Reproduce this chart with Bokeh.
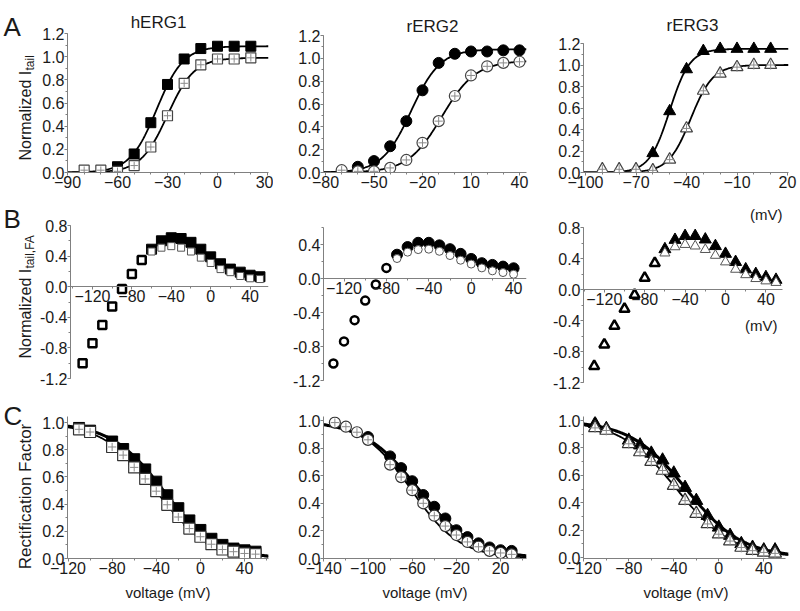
import numpy as np
from bokeh.plotting import figure
from bokeh.layouts import row, column
from bokeh.models import Range1d, FixedTicker, PrintfTickFormatter
from bokeh.core.properties import value
from bokeh.embed import file_html
from bokeh.resources import INLINE

FONT = "Liberation Sans"
AXIS = "#808080"
TXT = "#1a1a1a"

# ---------------- Row A: normalized tail current ----------------
a1_v_drug = [-60, -50, -40, -30, -20, -10, 0, 10, 20]
a1_drug = [0.05, 0.16, 0.43, 0.76, 0.98, 1.07, 1.09, 1.09, 1.09]
a1_v_ctrl = [-80, -70, -60, -50, -40, -30, -20, -10, 0, 10, 20]
a1_ctrl = [0.02, 0.02, 0.01, 0.06, 0.22, 0.49, 0.77, 0.93, 0.98, 0.98, 0.99]
a1_fit_drug = (1.09, -36.5, 8.0)   # Imax, V1/2, k (Boltzmann fit)
a1_fit_ctrl = (0.99, -30.0, 8.0)

a2_v_drug = [-60, -50, -40, -30, -20, -10, 0, 10, 20, 30, 40]
a2_drug = [0.05, 0.10, 0.23, 0.45, 0.72, 0.96, 1.04, 1.06, 1.06, 1.07, 1.07]
a2_v_ctrl = [-70, -60, -50, -40, -30, -20, -10, 0, 10, 20, 30, 40]
a2_ctrl = [0.02, 0.01, 0.01, 0.04, 0.11, 0.26, 0.45, 0.67, 0.85, 0.93, 0.96, 0.97]
a2_fit_drug = (1.08, -27.0, 9.0)
a2_fit_ctrl = (0.98, -8.0, 10.5)

a3_v_drug = [-60, -50, -40, -30, -20, -10, 0, 10]
a3_drug = [0.18, 0.57, 0.96, 1.13, 1.15, 1.15, 1.15, 1.15]
a3_v_ctrl = [-90, -80, -70, -60, -50, -40, -30, -20, -10, 0, 10]
a3_ctrl = [0.03, 0.03, 0.03, 0.02, 0.12, 0.41, 0.76, 0.92, 0.98, 1.00, 1.00]
a3_fit_drug = (1.15, -50.0, 6.0)
a3_fit_ctrl = (1.00, -37.5, 6.6)

# ---------------- Row B: normalized I tail,FA ----------------
b1_v = [-130, -120, -110, -100, -90, -80, -70, -60, -50, -40, -30, -20, -10, 0, 10, 20, 30, 40, 50]
b1_ctrl = [-1.00, -0.74, -0.50, -0.26, -0.03, 0.165, 0.35, 0.46, 0.51, 0.53, 0.51, 0.46, 0.38, 0.31, 0.23, 0.19, 0.14, 0.11, 0.10]
b1_v_drug = [-60, -50, -40, -30, -20, -10, 0, 10, 20, 30, 40, 50]
b1_drug = [0.49, 0.60, 0.64, 0.63, 0.58, 0.49, 0.39, 0.30, 0.23, 0.19, 0.15, 0.13]

b2_v = [-130, -120, -110, -100, -90, -80, -70, -60, -50, -40, -30, -20, -10, 0, 10, 20, 30, 40]
b2_ctrl = [-1.00, -0.74, -0.49, -0.26, -0.07, 0.125, 0.235, 0.31, 0.34, 0.345, 0.32, 0.27, 0.215, 0.17, 0.125, 0.09, 0.07, 0.05]
b2_v_drug = [-70, -60, -50, -40, -30, -20, -10, 0, 10, 20, 30, 40]
b2_drug = [0.28, 0.37, 0.42, 0.42, 0.39, 0.345, 0.29, 0.23, 0.18, 0.16, 0.14, 0.12]

b3_v = [-130, -120, -110, -100, -90, -80, -70, -60, -50, -40, -30, -20, -10, 0, 10, 20, 30, 40, 50]
b3_ctrl = [-0.99, -0.71, -0.47, -0.25, -0.07, 0.15, 0.34, 0.47, 0.55, 0.58, 0.56, 0.515, 0.44, 0.355, 0.26, 0.19, 0.14, 0.11, 0.09]
b3_v_drug = [-60, -50, -40, -30, -20, -10, 0, 10, 20, 30, 40, 50]
b3_drug = [0.52, 0.64, 0.69, 0.69, 0.645, 0.56, 0.46, 0.355, 0.26, 0.20, 0.16, 0.125]

# ---------------- Row C: rectification factor ----------------
c1_v = [-110, -100, -80, -70, -60, -50, -40, -30, -20, -10, 0, 10, 20, 30, 40, 50]
c1_ctrl = [0.95, 0.93, 0.82, 0.76, 0.67, 0.585, 0.495, 0.395, 0.305, 0.22, 0.16, 0.105, 0.066, 0.05, 0.037, 0.032]
c1_drug = [0.96, 0.94, 0.86, 0.805, 0.73, 0.655, 0.565, 0.465, 0.37, 0.28, 0.21, 0.145, 0.10, 0.073, 0.06, 0.05]
c1_fit_drug = (-33.5, 24.0)   # V1/2, k
c1_fit_ctrl = (-40.5, 24.0)

c2_v_ctrl = [-130, -120, -110, -100, -80, -70, -60, -50, -40, -30, -20, -10, 0, 10, 20, 30]
c2_ctrl = [0.985, 0.955, 0.915, 0.86, 0.68, 0.59, 0.495, 0.40, 0.31, 0.235, 0.17, 0.12, 0.085, 0.055, 0.04, 0.03]
c2_v_drug = [-100, -80, -70, -60, -50, -40, -30, -20, -10, 0, 10, 20, 30]
c2_drug = [0.88, 0.74, 0.655, 0.56, 0.46, 0.375, 0.29, 0.205, 0.155, 0.11, 0.08, 0.06, 0.055]
c2_fit_drug = (-54.0, 25.0)
c2_fit_ctrl = (-61.0, 22.0)

c3_v = [-110, -100, -80, -70, -60, -50, -40, -30, -20, -10, 0, 10, 20, 30, 40, 50]
c3_ctrl = [0.946, 0.927, 0.83, 0.77, 0.70, 0.635, 0.525, 0.415, 0.32, 0.245, 0.17, 0.12, 0.073, 0.05, 0.037, 0.03]
c3_drug = [0.976, 0.94, 0.855, 0.82, 0.76, 0.71, 0.615, 0.51, 0.415, 0.305, 0.22, 0.16, 0.10, 0.073, 0.054, 0.054]
c3_fit_drug = (-29.0, 25.0)
c3_fit_ctrl = (-37.5, 25.0)

# ---------------- ticks / labels ----------------
titles = ["hERG1", "rERG2", "rERG3"]
a1_xticks = [-90, -60, -30, 0, 30]
a2_xticks = [-80, -50, -20, 10, 40]
a3_xticks = [-100, -70, -40, -10, 20]
a_yticks = [0.0, 0.2, 0.4, 0.6, 0.8, 1.0, 1.2]
b_xticks = [-120, -80, -40, 0, 40]
b1_yticks = [-1.2, -0.8, -0.4, 0.0, 0.4, 0.8]
b2_yticks = [-1.2, -0.8, -0.4, 0.0, 0.4]
c1_xticks = [-120, -80, -40, 0, 40]
c2_xticks = [-140, -100, -60, -20, 20]
c3_xticks = [-120, -80, -40, 0, 40]
c_yticks = [0.0, 0.2, 0.4, 0.6, 0.8, 1.0]
unit_label = "(mV)"
x_title = "voltage (mV)"

# ---------------- page geometry (pixels) ----------------
# columns: canvas x, canvas width, frame left, frame right
COLS = [(36, 237, 67, 268), (273, 259, 323, 526), (532, 265, 583, 788)]
# rows: canvas y, canvas height, frame top, frame bottom
ROWS = [(0, 198, 2, 172), (198, 207, 198, 382), (405, 206, 416, 558)]


def minor(lo, hi, step):
    n = int(round((hi - lo) / step))
    return [round(lo + i * step, 4) for i in range(n + 1)]


def boltz_up(v, p):
    imax, vh, k = p
    return imax / (1.0 + np.exp((vh - v) / k))


def boltz_down(v, p):
    vh, k = p
    return 1.0 / (1.0 + np.exp((v - vh) / k))


def make_panel(ci, ri, xmap, ymap, xt, xm, yt, ym, ybounds=None, x0=True):
    cx, cw, fl, fr = COLS[ci]
    cy, ch, ft, fb = ROWS[ri]
    xv1, xp1, xv2, xp2 = xmap
    sx = (xp2 - xp1) / (xv2 - xv1)
    xs, xe = xv1 + (fl - xp1) / sx, xv1 + (fr - xp1) / sx
    yv1, yp1, yv2, yp2 = ymap
    sy = (yp1 - yp2) / (yv2 - yv1)
    ys, ye = yv1 - (fb - yp1) / sy, yv1 + (yp1 - ft) / sy
    p = figure(width=cw, height=ch, x_range=Range1d(xs, xe), y_range=Range1d(ys, ye),
               output_backend="svg", toolbar_location=None, tools="",
               min_border_left=fl - cx, min_border_right=cx + cw - fr,
               min_border_top=ft - cy, min_border_bottom=cy + ch - fb)
    p.grid.visible = False
    p.outline_line_color = None
    for ax in (p.xaxis[0], p.yaxis[0]):
        ax.axis_line_color = AXIS
        ax.major_tick_line_color = AXIS
        ax.minor_tick_line_color = AXIS
        ax.major_tick_out = 3
        ax.major_tick_in = 0
        ax.minor_tick_out = 2
        ax.minor_tick_in = 0
        ax.major_label_text_font = FONT
        ax.major_label_text_font_size = "16px"
        ax.major_label_text_color = TXT
        ax.major_label_standoff = 0
    p.xaxis.ticker = FixedTicker(ticks=xt, minor_ticks=xm)
    p.yaxis.ticker = FixedTicker(ticks=yt, minor_ticks=ym)
    p.yaxis.formatter = PrintfTickFormatter(format="%.1f")
    if ybounds:
        p.yaxis.bounds = ybounds
    if x0:
        p.xaxis.fixed_location = 0
    fx = lambda px: xv1 + (px - xp1) / sx
    fy = lambda py: yv1 + (yp1 - py) / sy
    return p, (xs, xe), fx, fy


def curve(p, xr, fn, prm, lw, color="black"):
    xs = np.linspace(xr[0], xr[1], 240)
    p.line(xs, fn(xs, prm), line_color=color, line_width=lw)


def openmk(p, x, y, marker, size, lw=1.2, line="#444444"):
    p.scatter(x, y, marker=marker, size=size, fill_color="white", line_color=line, line_width=lw)
    p.scatter(x, y, marker="cross", size=size * 0.75, line_color="#8a8a8a", line_width=1)


def filledmk(p, x, y, marker, size):
    p.scatter(x, y, marker=marker, size=size, fill_color="black", line_color="black", line_width=1)


def add_text(p, x, y, txt, size, align="center"):
    p.text(x=[x], y=[y], text=[txt], text_font=value(FONT), text_font_size=value(size),
           text_color=TXT, text_align=align, text_baseline="alphabetic")


# ---------------- Row A ----------------
a1, a1_xr, a1_fx, a1_fy = make_panel(0, 0, (-90, 67, 30, 267), (0, 172, 1.2, 33), a1_xticks, minor(-90, 30, 10),
                                     a_yticks, minor(0, 1.2, 0.1), ybounds=(0, 1.2), x0=False)
a2, a2_xr, a2_fx, a2_fy = make_panel(1, 0, (-80, 325, 40, 519), (0, 172, 1.2, 35), a2_xticks, minor(-80, 40, 10),
                                     a_yticks, minor(0, 1.2, 0.1), ybounds=(0, 1.2), x0=False)
a3, a3_xr, a3_fx, a3_fy = make_panel(2, 0, (-100, 585, 20, 787), (0, 172, 1.2, 43), a3_xticks, minor(-100, 20, 10),
                                     a_yticks, minor(0, 1.2, 0.1), ybounds=(0, 1.2), x0=False)

curve(a1, a1_xr, boltz_up, a1_fit_drug, 1.8)
curve(a1, a1_xr, boltz_up, a1_fit_ctrl, 1.8)
filledmk(a1, a1_v_drug, a1_drug, "square", 10)
openmk(a1, a1_v_ctrl, a1_ctrl, "square", 10)
add_text(a1, a1_fx(158), a1_fy(22), titles[0], "17px")

curve(a2, a2_xr, boltz_up, a2_fit_drug, 1.8)
curve(a2, a2_xr, boltz_up, a2_fit_ctrl, 1.8)
filledmk(a2, a2_v_drug, a2_drug, "circle", 11)
openmk(a2, a2_v_ctrl, a2_ctrl, "circle", 11)
add_text(a2, a2_fx(432), a2_fy(26), titles[1], "17px")

curve(a3, a3_xr, boltz_up, a3_fit_drug, 1.8)
curve(a3, a3_xr, boltz_up, a3_fit_ctrl, 1.8)
filledmk(a3, a3_v_drug, a3_drug, "triangle", 12)
openmk(a3, a3_v_ctrl, a3_ctrl, "triangle", 12)
add_text(a3, a3_fx(692), a3_fy(25), titles[2], "17px")

# ---------------- Row B ----------------
b1, b1_xr, b1_fx, b1_fy = make_panel(0, 1, (0, 209.3, 50, 259.3), (0.8, 225, -1.2, 378), b_xticks, minor(-140, 60, 20),
                                     b1_yticks, minor(-1.2, 0.8, 0.2), ybounds=(-1.2, 0.8))
b2, b2_xr, b2_fx, b2_fy = make_panel(1, 1, (0, 470.7, 40, 513.1), (0.4, 244, -1.2, 380), b_xticks, minor(-140, 40, 20),
                                     b2_yticks, minor(-1.2, 0.6, 0.2), ybounds=(-1.2, 0.6))
b3, b3_xr, b3_fx, b3_fy = make_panel(2, 1, (0, 725, 40, 765.4), (0.8, 227, -1.2, 382), b_xticks, minor(-140, 40, 20),
                                     b1_yticks, minor(-1.2, 0.8, 0.2), ybounds=(-1.2, 0.8))
b3.xaxis.bounds = (b3_xr[0], b3_fx(782))

for p, v, ctrl, vd, drug, mk, s_thick, s_fill, s_thin, nthick in (
        (b1, b1_v, b1_ctrl, b1_v_drug, b1_drug, "square", 8, 10, 7, 7),
        (b2, b2_v, b2_ctrl, b2_v_drug, b2_drug, "circle", 8, 11, 8, 6),
        (b3, b3_v, b3_ctrl, b3_v_drug, b3_drug, "triangle", 10, 12, 10, 7)):
    p.scatter(v[:nthick], ctrl[:nthick], marker=mk, size=s_thick, fill_color="white", line_color="black", line_width=2.5)
    filledmk(p, vd, drug, mk, s_fill)
    p.scatter(v[nthick:], ctrl[nthick:], marker=mk, size=s_thin, fill_color="white", line_color="#555555", line_width=1)

# unit labels for rows A and B of the right column
add_text(b3, b3_fx(782), b3_fy(214), unit_label, "15px", align="right")
add_text(b3, b3_fx(777), b3_fy(325), unit_label, "15px", align="right")

# ---------------- Row C ----------------
c1, c1_xr, c1_fx, c1_fy = make_panel(0, 2, (-120, 67.5, 40, 244), (0, 558, 1.0, 422), c1_xticks, minor(-120, 60, 20),
                                     c_yticks, minor(0, 1.0, 0.1), x0=False)
c2, c2_xr, c2_fx, c2_fy = make_panel(1, 2, (0, 478, 20, 500.1), (0, 558, 1.0, 420), c2_xticks, minor(-140, 40, 20),
                                     c_yticks, minor(0, 1.0, 0.1), x0=False)
c3, c3_xr, c3_fx, c3_fy = make_panel(2, 2, (0, 718.3, 40, 763.3), (0, 557, 1.0, 420), c3_xticks, minor(-120, 40, 20),
                                     c_yticks, minor(0, 1.0, 0.1), x0=False)
c3.xaxis.bounds = (c3_xr[0], c3_fx(785))
for p in (c1, c2, c3):
    p.xaxis.axis_label = x_title
    p.xaxis.axis_label_text_font = FONT
    p.xaxis.axis_label_text_font_size = "15px"
    p.xaxis.axis_label_text_font_style = "normal"
    p.xaxis.axis_label_text_color = TXT
    p.xaxis.axis_label_standoff = 7

curve(c1, c1_xr, boltz_down, c1_fit_drug, 3)
curve(c1, c1_xr, boltz_down, c1_fit_ctrl, 1.8)
filledmk(c1, c1_v, c1_drug, "square", 11)
openmk(c1, c1_v, c1_ctrl, "square", 11, line="#333333")

curve(c2, c2_xr, boltz_down, c2_fit_drug, 3)
curve(c2, c2_xr, boltz_down, c2_fit_ctrl, 1.8)
filledmk(c2, c2_v_drug, c2_drug, "circle", 11)
openmk(c2, c2_v_ctrl, c2_ctrl, "circle", 11, line="#333333")

curve(c3, c3_xr, boltz_down, c3_fit_drug, 3)
curve(c3, c3_xr, boltz_down, c3_fit_ctrl, 1.8)
filledmk(c3, c3_v, c3_drug, "triangle", 13)
openmk(c3, c3_v, c3_ctrl, "triangle", 13, line="#333333")

# ---------------- left label column ----------------
LW, LH = 36, 611
lab = figure(width=LW, height=LH, x_range=Range1d(0, LW), y_range=Range1d(0, LH),
             output_backend="svg", toolbar_location=None, tools="", min_border=0,
             x_axis_location=None, y_axis_location=None)
lab.outline_line_color = None
lab.grid.visible = False


def ly(py):
    return LH - py


lab.text(x=[3, 3, 3], y=[ly(26), ly(218), ly(415)], text=["A", "B", "C"],
         text_font=value(FONT), text_font_size=value("26px"), text_color=TXT,
         text_align="left", text_baseline="alphabetic")
lab.text(x=[25, 25], y=[ly(160), ly(358)], text=["Normalized I", "Normalized I"], angle=np.pi / 2,
         text_font=value(FONT), text_font_size=value("16px"), text_color=TXT,
         text_align="left", text_baseline="alphabetic")
lab.text(x=[29, 29], y=[ly(160) + 90, ly(358) + 90], text=["tail", "tail,FA"], angle=np.pi / 2,
         text_font=value(FONT), text_font_size=value("12px"), text_color=TXT,
         text_align="left", text_baseline="alphabetic")
lab.text(x=[25], y=[ly(496)], text=["Rectification Factor"], angle=np.pi / 2,
         text_font=value(FONT), text_font_size=value("17px"), text_color=TXT,
         text_align="center", text_baseline="alphabetic")

layout = row(lab, column(row(a1, a2, a3), row(b1, b2, b3), row(c1, c2, c3)))
open("out.html", "w").write(file_html(layout, INLINE))
